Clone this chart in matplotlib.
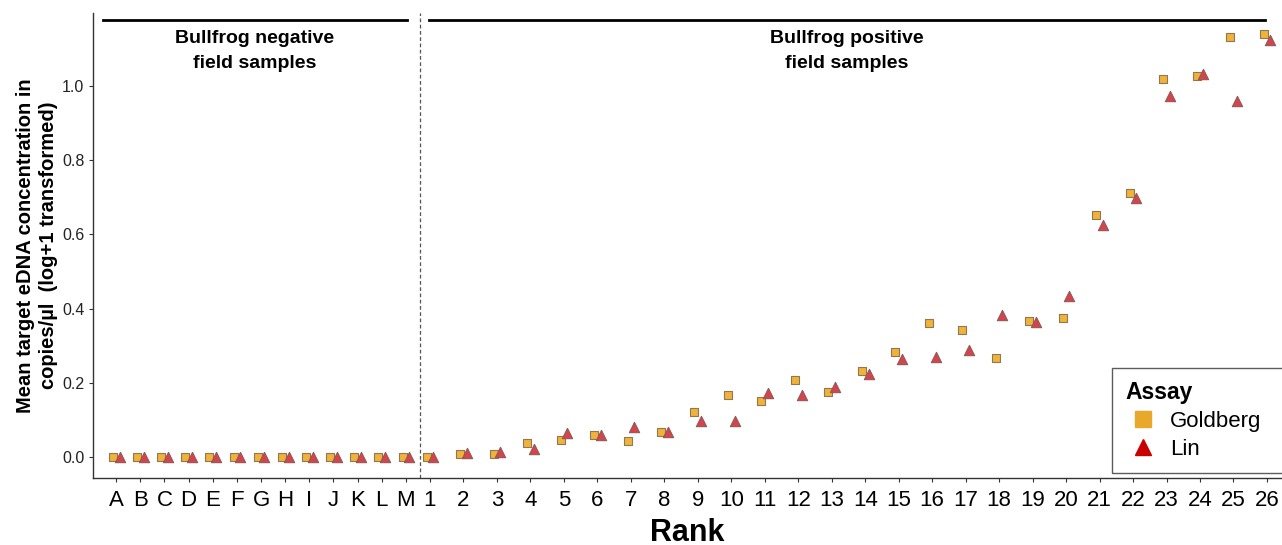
import matplotlib.pyplot as plt
from matplotlib.lines import Line2D

plt.rcParams['font.family'] = ['Liberation Sans', 'DejaVu Sans']

# negative field samples (all zero for both assays)
neg_labels = ['A', 'B', 'C', 'D', 'E', 'F', 'G', 'H', 'I', 'J', 'K', 'L', 'M']
neg_goldberg = [0.0] * 13
neg_lin = [0.0] * 13

# positive field samples, ranked 1..26
pos_labels = [str(i) for i in range(1, 27)]
pos_goldberg = [0.0, 0.008, 0.008, 0.039, 0.045, 0.059, 0.044, 0.067, 0.121, 0.168,
                0.151, 0.207, 0.176, 0.231, 0.283, 0.360, 0.341, 0.268, 0.366, 0.374,
                0.651, 0.711, 1.020, 1.027, 1.133, 1.140]
pos_lin = [0.0, 0.010, 0.013, 0.022, 0.064, 0.059, 0.081, 0.067, 0.098, 0.098,
           0.173, 0.168, 0.189, 0.224, 0.264, 0.269, 0.289, 0.382, 0.364, 0.433,
           0.626, 0.697, 0.973, 1.032, 0.960, 1.124]

# x positions: numbered samples at 1..26, letters packed tighter to the left
letter_step = 0.721
neg_x = [1 - (len(neg_labels) - k) * letter_step for k in range(len(neg_labels))]
pos_x = list(range(1, len(pos_labels) + 1))
xs = neg_x + pos_x
labels = neg_labels + pos_labels
goldberg = neg_goldberg + pos_goldberg
lin = neg_lin + pos_lin
dodge = 0.1

sq_fill, sq_edge = '#F2B237', '#8A7A55'
tri_fill, tri_edge = '#D6434A', '#8E5A5A'

fig = plt.figure(figsize=(12.82, 5.45), dpi=100)
ax = fig.add_axes([93.3 / 1282, 1 - 478 / 545, 1 - 93.3 / 1282, (478 - 13) / 545])

ax.scatter([x - dodge for x in xs], goldberg, marker='s', s=32, c=sq_fill,
           edgecolors=sq_edge, linewidths=0.8, zorder=3)
ax.scatter([x + dodge for x in xs], lin, marker='^', s=55, c=tri_fill,
           edgecolors=tri_edge, linewidths=0.8, zorder=4)

ax.set_xlim(-9.057, 26.45)
ax.set_ylim(-0.0566, 1.1968)
ax.set_xticks(xs)
ax.set_xticklabels(labels, fontsize=16)
ax.set_yticks([0.0, 0.2, 0.4, 0.6, 0.8, 1.0])
ax.set_yticklabels(['0.0', '0.2', '0.4', '0.6', '0.8', '1.0'], fontsize=11.5, color='#222222')
ax.tick_params(axis='both', length=3, width=0.8, color='#333333')
ax.tick_params(axis='x', pad=6)

for side in ['top', 'right']:
    ax.spines[side].set_visible(False)
for side in ['left', 'bottom']:
    ax.spines[side].set_color('#333333')
    ax.spines[side].set_linewidth(1.0)

# separator between negative and positive samples
ax.axvline(0.70, color='#555555', linestyle=(0, (3, 2)), linewidth=0.9)

# group brackets and labels
ax.plot([-8.77, 0.31], [1.178, 1.178], color='black', linewidth=2)
ax.plot([0.97, 25.94], [1.178, 1.178], color='black', linewidth=2)
ax.text(-4.23, 1.150, 'Bullfrog negative\nfield samples', ha='center', va='top',
        fontsize=14, fontweight='bold', linespacing=1.6)
ax.text(13.45, 1.150, 'Bullfrog positive\nfield samples', ha='center', va='top',
        fontsize=14, fontweight='bold', linespacing=1.6)

ax.set_ylabel('Mean target eDNA concentration in\ncopies/µl  (log+1 transformed)',
              fontsize=14.5, fontweight='bold', linespacing=1.25, labelpad=3)
ax.set_xlabel('Rank', fontsize=22, fontweight='bold', labelpad=5)

handles = [
    Line2D([], [], linestyle='none', marker='s', markersize=11, color='#E9A82B'),
    Line2D([], [], linestyle='none', marker='^', markersize=11, color='#C80000'),
]
leg = fig.legend(handles, ['Goldberg', 'Lin'], title='Assay', loc='lower left',
                 bbox_to_anchor=(1112 / 1282, 1 - 473 / 545, 200 / 1282, 0.1),
                 mode='expand', fontsize=16,
                 title_fontproperties={'weight': 'bold', 'size': 16.5},
                 alignment='left', frameon=True, fancybox=False, borderpad=0.6,
                 handlelength=1.6, handletextpad=0.4, labelspacing=0.3, borderaxespad=0)
leg.get_frame().set_edgecolor('#333333')
leg.get_frame().set_linewidth(1.0)

fig.savefig('out.png', dpi=100)
